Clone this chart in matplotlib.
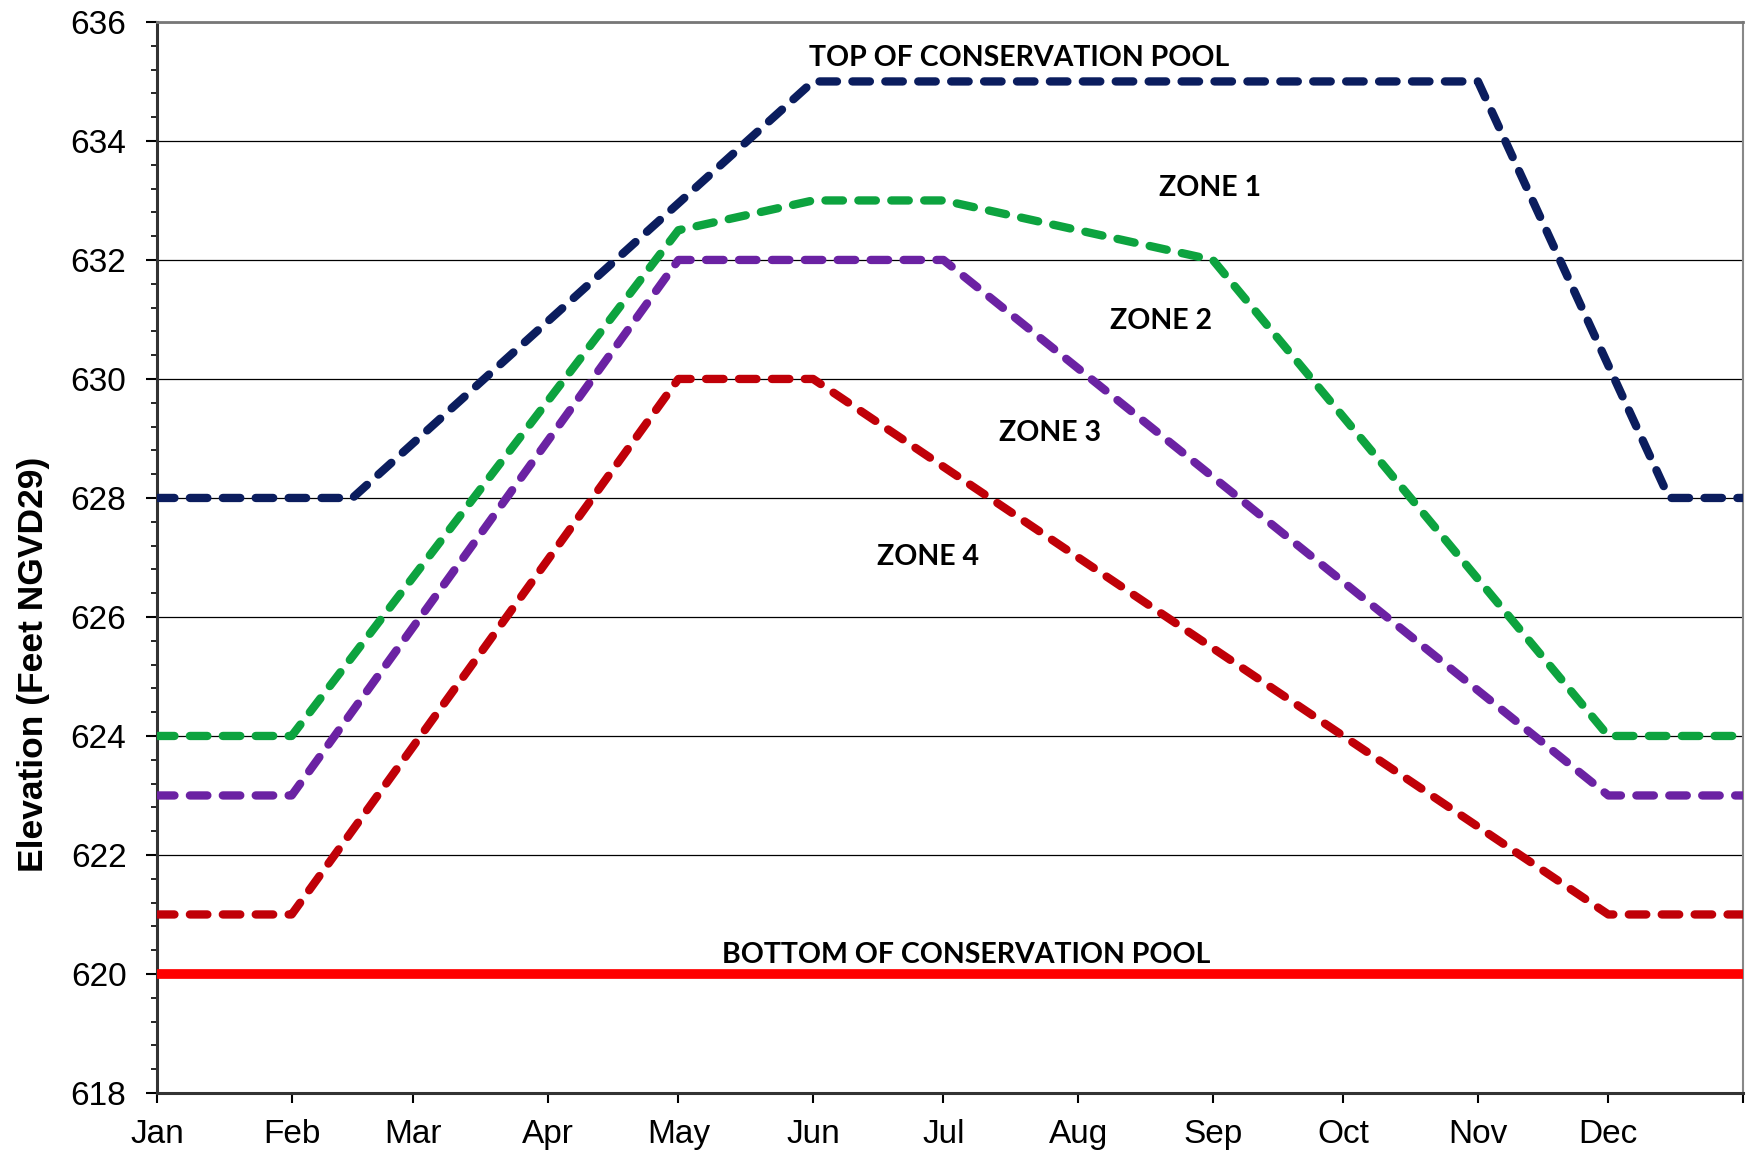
import matplotlib
matplotlib.use("Agg")
import matplotlib.pyplot as plt
from matplotlib.ticker import MultipleLocator

# Month labels and day-of-year positions of month starts
months = ["Jan", "Feb", "Mar", "Apr", "May", "Jun", "Jul", "Aug", "Sep", "Oct", "Nov", "Dec"]
month_days = [0, 31, 59, 90, 120, 151, 181, 212, 243, 273, 304, 334, 365]

# Rule curve break points (day of year, elevation ft NGVD29)
top_days = [0, 45, 151, 304, 348, 365]
top_vals = [628, 628, 635, 635, 628, 628]

zone1_days = [0, 31, 120, 151, 181, 243, 334, 365]
zone1_vals = [624, 624, 632.5, 633, 633, 632, 624, 624]

zone2_days = [0, 31, 120, 181, 334, 365]
zone2_vals = [623, 623, 632, 632, 623, 623]

zone3_days = [0, 31, 120, 151, 334, 365]
zone3_vals = [621, 621, 630, 630, 621, 621]

bottom_days = [0, 365]
bottom_vals = [620, 620]

labels = ["TOP OF CONSERVATION POOL", "ZONE 1", "ZONE 2", "ZONE 3", "ZONE 4",
          "BOTTOM OF CONSERVATION POOL"]
label_x = [198.4, 242.4, 231, 205.5, 177.4, 186.3]
label_y = [635.40, 633.21, 630.98, 629.09, 627.01, 620.32]

fig = plt.figure(figsize=(17.46, 11.55), dpi=100)
ax = fig.add_axes([0.0899, 0.0537, 0.9084, 0.9273])

dash_kw = dict(linewidth=6.0, dashes=(2.1, 1.85), dash_capstyle="round",
               solid_capstyle="round", zorder=3)
ax.plot(top_days, top_vals, color="#0b1d5e", **dash_kw)
ax.plot(zone1_days, zone1_vals, color="#0da33f", **dash_kw)
ax.plot(zone2_days, zone2_vals, color="#6b22a3", **dash_kw)
ax.plot(zone3_days, zone3_vals, color="#c00008", **dash_kw)
ax.plot(bottom_days, bottom_vals, color="#ff0000", linewidth=7, zorder=3,
        solid_capstyle="butt")

for t, x, y in zip(labels, label_x, label_y):
    ax.text(x, y, t, ha="center", va="center", fontsize=20.5,
            fontweight="bold", family="Lato", color="black", zorder=4)

ax.set_xlim(0, 365)
ax.set_ylim(618, 636)
ax.set_xticks(month_days)
ax.set_xticklabels(months + [""])
ax.yaxis.set_major_locator(MultipleLocator(2))
ax.yaxis.set_minor_locator(MultipleLocator(0.4))
ax.grid(axis="y", which="major", color="black", linewidth=0.9, zorder=1)
ax.set_axisbelow(True)

for lab in ax.get_xticklabels() + ax.get_yticklabels():
    lab.set_family("Liberation Sans")
    lab.set_fontsize(24)
ax.tick_params(axis="y", which="major", direction="out", length=8, width=1.5, pad=14, colors="black")
ax.tick_params(axis="y", which="minor", direction="out", length=4, width=1.2)
ax.tick_params(axis="x", which="major", direction="out", length=7, width=1.5, pad=12)

ax.set_ylabel("Elevation (Feet NGVD29)", fontsize=25.5, fontweight="bold",
              family="Liberation Sans")
ax.yaxis.set_label_coords(-0.0675, 0.40)

ax.spines["left"].set_color("#333333")
ax.spines["bottom"].set_color("#333333")
ax.spines["left"].set_linewidth(2.2)
ax.spines["bottom"].set_linewidth(2.2)
ax.spines["top"].set_color("#777777")
ax.spines["right"].set_color("#888888")
ax.spines["top"].set_linewidth(2.0)
ax.spines["right"].set_linewidth(1.5)

fig.savefig("out.png", dpi=100)
